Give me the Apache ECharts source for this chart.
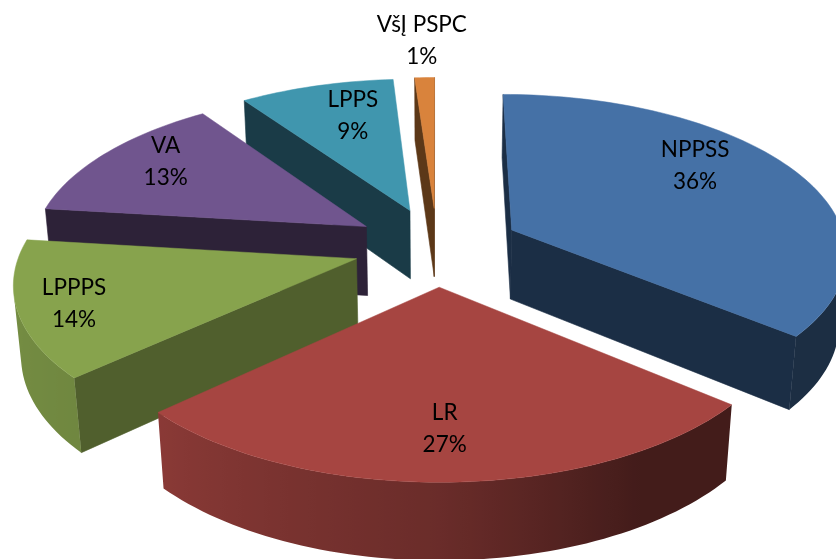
<!DOCTYPE html>
<html lang="en">
<head>
  <meta charset="UTF-8">
  <title>Pie</title>
  <script src="https://cdn.jsdelivr.net/npm/echarts/dist/echarts.min.js"></script>
  <style>
    html, body { margin: 0; padding: 0; background: #fff; }
    #chart { width: 836px; height: 559px; }
  </style>
</head>
<body>
<div id="chart"></div>
<script>
  const names = ["NPPSS", "LR", "LPPPS", "VA", "LPPS", "VšĮ PSPC"];
  // estimated from the slice edges, the labels show them rounded
  const shares = [36, 27.2, 13.7, 13.4, 8.6, 1.1];

  const topColors = ["#4571a6", "#a64541", "#87a34d", "#70558e", "#4096ae", "#d9833c"];
  const wallColors = ["#1b2e45", "#421a17", "#505f2d", "#2d2238", "#1a3b47", "#5c3818"];

  // label place relative to the slice tip: radius and turn off the mid angle
  const labelRadius = [0.75, 0.75, 0.84, 0.8, 0.73, 1.34];
  const labelTurn = [-11.6, 0.4, -0.7, 3.7, 3.6, 0];

  // camera for the tilted disc
  const cx = 437, cy = 246.5, scaleX = 335, scaleY = 157.5;
  const tilt = 0.132, sink = 0.018, depth = 71, explode = 0.25;

  const total = shares.reduce((a, b) => a + b, 0);
  const starts = [];
  shares.reduce((sum, v, i) => { starts[i] = sum; return sum + v; }, 0);

  function project(x, y, z) {
    const w = 1 + tilt * y + sink * z;
    return [cx + scaleX * x / w, cy + (-scaleY * y + depth * z) / w];
  }

  function polar(deg) {
    const r = deg * Math.PI / 180;
    return [Math.sin(r), Math.cos(r)];
  }

  function area(pts) {
    let s = 0;
    pts.forEach((p, i) => {
      const q = pts[(i + 1) % pts.length];
      s += p[0] * q[1] - q[0] * p[1];
    });
    return s / 2;
  }

  function mix(hex, f) {
    const c = echarts.color.parse(hex);
    return `rgb(${Math.round(c[0] * f)},${Math.round(c[1] * f)},${Math.round(c[2] * f)})`;
  }

  // rim light: dark on the right side, lighter towards the left
  function rimShade(deg) {
    if (deg <= 150) return 0.405;
    if (deg <= 180) return 0.405 + (deg - 150) / 30 * 0.235;
    if (deg <= 227) return 0.64 + (deg - 180) / 47 * 0.19;
    return Math.min(0.88, 0.83 + (deg - 227) / 40 * 0.05);
  }

  function renderSlice(params, api) {
    const i = api.value(0);
    const a0 = api.value(1) / total * 360;
    const a1 = a0 + api.value(2) / total * 360;
    const mid = (a0 + a1) / 2;
    const dir = polar(mid);
    const tip = [dir[0] * explode, dir[1] * explode];
    const at = (deg) => {
      const p = polar(deg);
      return [tip[0] + p[0], tip[1] + p[1]];
    };

    const rim = [];
    const steps = Math.max(4, Math.ceil((a1 - a0) / 1.5));
    for (let s = 0; s <= steps; s++) rim.push(a0 + (a1 - a0) * s / steps);

    const quad = (a, b) => [project(a[0], a[1], 0), project(b[0], b[1], 0), project(b[0], b[1], 1), project(a[0], a[1], 1)];
    const children = [];
    const wall = (a, b, fill) => {
      const pts = quad(a, b);
      if (area(pts) < 0) {
        children.push({
          type: "polygon",
          shape: { points: pts },
          style: { fill: fill, stroke: fill, lineWidth: 0.6 }
        });
      }
    };

    wall(tip, at(a0), wallColors[i]);
    wall(at(a1), tip, wallColors[i]);

    // one polygon for the part of the rim that faces us, shaded across x
    const seen = [];
    for (let s = 0; s <= steps; s++) {
      const facing = (s < steps && area(quad(at(rim[s]), at(rim[s + 1]))) < 0) ||
        (s > 0 && area(quad(at(rim[s - 1]), at(rim[s]))) < 0);
      if (facing) seen.push(rim[s]);
    }
    if (seen.length > 1) {
      const upper = seen.map((d) => { const p = at(d); return project(p[0], p[1], 0); });
      const lower = seen.map((d) => { const p = at(d); return project(p[0], p[1], 1); });
      const xs = upper.map((p) => p[0]);
      const minX = Math.min.apply(null, xs), maxX = Math.max.apply(null, xs);
      const stops = seen.map((d, k) => ({
        offset: (xs[k] - minX) / (maxX - minX),
        color: mix(topColors[i], rimShade(d))
      })).sort((a, b) => a.offset - b.offset);
      const fill = new echarts.graphic.LinearGradient(minX, 0, maxX, 0, stops, true);
      children.push({
        type: "polygon",
        shape: { points: upper.concat(lower.reverse()) },
        style: { fill: fill }
      });
    }

    const face = [project(tip[0], tip[1], 0)].concat(rim.map((d) => {
      const p = at(d);
      return project(p[0], p[1], 0);
    }));
    children.push({
      type: "polygon",
      shape: { points: face },
      style: { fill: topColors[i], stroke: topColors[i], lineWidth: 0.5 }
    });

    const l = polar(mid + labelTurn[i]);
    const pos = project(tip[0] + l[0] * labelRadius[i], tip[1] + l[1] * labelRadius[i], 0);
    children.push({
      type: "text",
      z2: 100,
      style: {
        x: pos[0],
        y: pos[1] + 1,
        text: names[i] + "\n" + Math.round(api.value(2)) + "%",
        fill: "#000",
        font: "22.5px Lato",
        lineHeight: 32,
        align: "center",
        verticalAlign: "middle"
      }
    });
    return { type: "group", children: children };
  }

  // back slices first so the front ones cover them
  const drawOrder = shares.map((v, i) => i).sort((a, b) =>
    polar((starts[b] + shares[b] / 2) / total * 360)[1] -
    polar((starts[a] + shares[a] / 2) / total * 360)[1]
  );

  const chart = echarts.init(document.getElementById("chart"), null, { renderer: "canvas" });
  chart.setOption({
    animation: false,
    backgroundColor: "#fff",
    series: [
      {
        type: "custom",
        coordinateSystem: "none",
        renderItem: renderSlice,
        data: drawOrder.map((i) => [i, starts[i], shares[i]])
      }
    ]
  });
</script>
</body>
</html>
